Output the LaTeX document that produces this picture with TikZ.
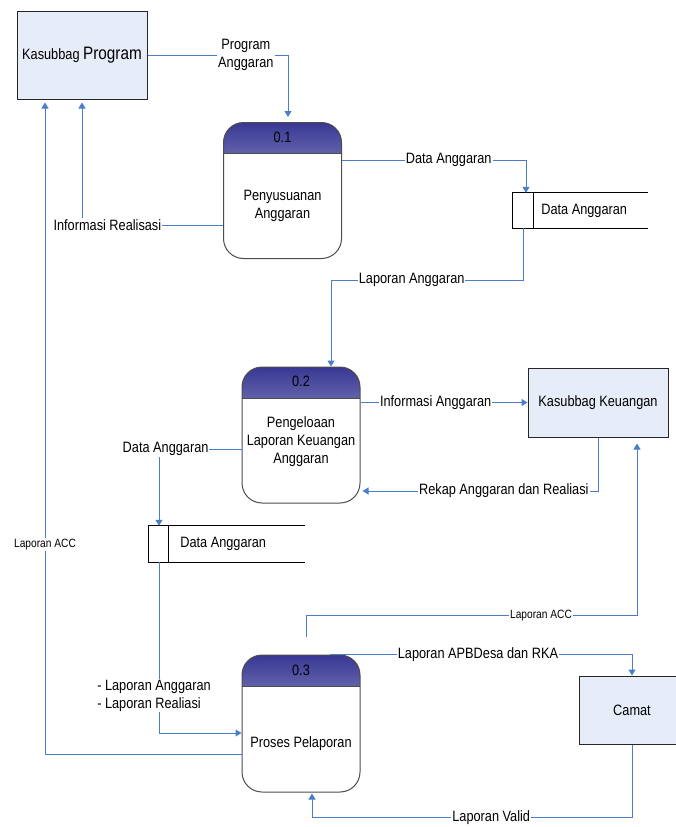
\documentclass[tikz,border=0pt]{standalone}
\usepackage{fontspec}
\setmainfont{Liberation Sans}[FakeStretch=0.85]
\usetikzlibrary{arrows.meta,positioning,calc}

\definecolor{flowblue}{RGB}{74,126,201}
\definecolor{entfill}{RGB}{230,236,248}
\definecolor{hdrtop}{RGB}{56,56,148}
\definecolor{hdrbot}{RGB}{236,236,248}

\begin{document}
\begin{tikzpicture}[
  x=1pt, y=-1pt,
  font=\fontsize{15}{18}\selectfont,
  entity/.style={draw=black!85, line width=1pt, fill=entfill, align=center},
  proc/.style={draw=black!70, line width=1pt, rounded corners=20pt, fill=white,
               minimum width=118pt, minimum height=136pt,
               path picture={
                 \shade[sharp corners, top color=hdrtop, bottom color=hdrbot]
                   (path picture bounding box.north west) rectangle
                   ([yshift=-31pt]path picture bounding box.north east);
                 \draw[sharp corners, black!70, line width=1pt]
                   ([yshift=-31pt]path picture bounding box.north west) --
                   ([yshift=-31pt]path picture bounding box.north east);}},
  store/.style={minimum height=35pt},
  storeline/.style={draw=black, line width=1pt},
  flow/.style={draw=flowblue, line width=1pt, -{Triangle[length=6pt, width=7pt]}},
  lbl/.style={fill=white, inner sep=1pt},
  smalllbl/.style={font=\fontsize{12}{14}\selectfont},
]
\useasboundingbox (0,0) rectangle (676,827);

% external entities
\node[entity, minimum width=130pt, minimum height=88pt] (kprog) at (82,55)
  {Kasubbag {\fontsize{18}{20}\selectfont Program}};
\node[entity, minimum width=140pt, minimum height=69pt] (kkeu) at (598,402.5)
  {Kasubbag Keuangan};
\node[entity, minimum width=106pt, minimum height=68pt] (camat) at (632,710)
  {Camat};

% processes
\node[proc] (p1) at (282.5,190.5) {};
\node (p1id) at ([yshift=-15.5pt]p1.north) {0.1};
\node[align=center] (p1txt) at ([yshift=-15.5pt]p1.center) {Penyusuanan\\Anggaran};

\node[proc] (p2) at (301,435) {};
\node (p2id) at ([yshift=-15pt]p2.north) {0.2};
\node[align=center] (p2txt) at ([yshift=-7pt]p2.center)
  {Pengeloaan\\Laporan Keuangan\\Anggaran};

\node[proc, minimum height=137pt] (p3) at (301,723.5) {};
\node (p3id) at ([yshift=-15.5pt]p3.north) {0.3};
\node (p3txt) at ([yshift=-20.5pt]p3.center) {Proses Pelaporan};

% data stores
\node[store, minimum width=135pt] (s1) at (580.5,210.5) {};
\node[anchor=west] (s1txt) at ([xshift=25pt]s1.west) {Data Anggaran};
\draw[storeline] (s1.north east) -- (s1.north west) -- (s1.south west) -- (s1.south east);
\draw[storeline] ([xshift=21pt]s1.north west) -- ([xshift=21pt]s1.south west);

\node[store, minimum width=156pt, minimum height=36pt] (s2) at (227,544) {};
\node[anchor=west] (s2txt) at ([xshift=28pt]s2.west) {Data Anggaran};
\draw[storeline] (s2.north east) -- (s2.north west) -- (s2.south west) -- (s2.south east);
\draw[storeline] ([xshift=20pt]s2.north west) -- ([xshift=20pt]s2.south west);

% flows
\draw[flow, shorten >=5pt] (kprog.east) -| node[lbl, pos=0.35, align=center]
  {Program\\Anggaran} ([xshift=5.5pt]p1.north);
\draw[flow, shorten >=3pt] ([yshift=-34.5pt]p1.west) -| node[lbl, pos=0.41]
  {Informasi Realisasi} (kprog.south);
\draw[flow] ([yshift=30.5pt]p1.east) -| node[lbl, pos=0.29]
  {Data Anggaran} ([xshift=-54.5pt]s1.north);
\draw[flow] ([xshift=-57.5pt]s1.south) -- ++(0,52) -| node[lbl, pos=0.29]
  {Laporan Anggaran} ([xshift=30pt]p2.north);
\draw[flow] (p2.east |- kkeu.west) -- node[lbl, pos=0.45]
  {Informasi Anggaran} (kkeu.west);
\draw[flow] (kkeu.south) |- node[lbl, pos=0.7]
  {Rekap Anggaran dan Realiasi} ([xshift=2pt, yshift=-56pt]p2.east);
\draw[flow] ([yshift=-14pt]p2.west) -| node[lbl, pos=0.46]
  {Data Anggaran} ([xshift=-68pt]s2.north);
\draw[flow] ([xshift=-68pt]s2.south) |- node[lbl, pos=0.39, xshift=-5pt, align=left]
  {- Laporan Anggaran\\- Laporan Realiasi} ([yshift=-9.5pt]p3.west);
\draw[flow, shorten >=3pt] ([yshift=-30.5pt]p3.west) -| node[lbl, smalllbl, pos=0.66]
  {Laporan ACC} ([xshift=-37pt]kprog.south);
\coordinate (accfrom) at ([xshift=5pt, yshift=18pt]p3.north);
\draw[flow, shorten >=6pt] (accfrom) -- ++(0,-21) -| node[lbl, smalllbl, pos=0.355]
  {Laporan ACC} ([xshift=39pt]kkeu.south);
\draw[flow] ([xshift=29pt]p3.north) -| node[lbl, pos=0.245]
  {Laporan APBDesa dan RKA} (camat.north);
\draw[flow, shorten >=1pt] (camat.south) -- ++(0,73) -| node[lbl, pos=0.22]
  {Laporan Valid} ([xshift=11pt]p3.south);
\end{tikzpicture}
\end{document}
